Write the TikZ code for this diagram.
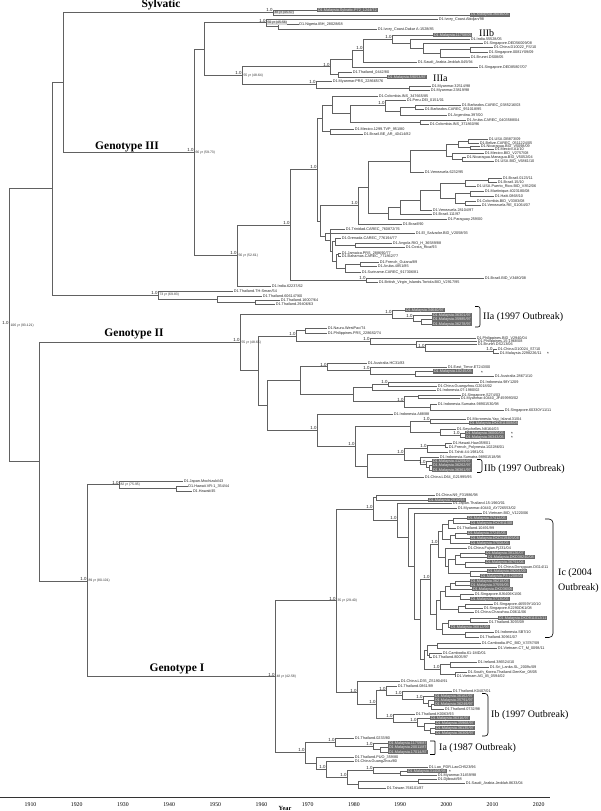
\documentclass[tikz,border=0pt]{standalone}
\usepackage{fontspec}
\setmainfont{Liberation Serif}
\newfontfamily\tipf{Liberation Sans}
\newcommand{\tnd}[3]{\coordinate (#1) at (#2,#3);}
\newcommand{\ttip}[4]{\node[tipn] (#1) at (#2,#3) {#4};}
\newcommand{\tbox}[4]{\node[btipn] (#1) at (#2,#3) {#4};}
\newcommand{\ein}[2]{\draw[branch] (#1) |- (#2);}
\newcommand{\etp}[2]{\draw[branch] (#1) |- (#2.west);}
\newcommand{\supp}[1]{\node[supn] (s#1) at ([yshift=0.2pt]#1) {1.0};}
\newcommand{\agel}[2]{\node[agen] (a#1) at ([xshift=1pt]#1) {#2};}
\newcommand{\agebx}[2]{\node[ageb] (a#1) at ([xshift=1pt]#1) {#2};}
\tikzset{
 branch/.style={draw=black!62, line width=0.55pt},
 tipn/.style={anchor=west, inner xsep=0.6pt, inner ysep=0.2pt, text height=2.8pt, text depth=0.8pt, font=\tipf\fontsize{3.8}{4}\selectfont, text=black!85},
 btipn/.style={anchor=west, inner xsep=0.8pt, inner ysep=0.3pt, fill=black!58, text=black!8, text height=2.8pt, text depth=0.8pt, font=\tipf\fontsize{3.8}{4}\selectfont},
 supn/.style={anchor=south east, inner sep=0.2pt, font=\tipf\fontsize{4.4}{4.4}\selectfont, text=black!85},
 agen/.style={anchor=west, inner sep=0.3pt, font=\tipf\fontsize{3.4}{3.4}\selectfont, text=black!80},
 ageb/.style={agen, fill=black!15},
 gen/.style={anchor=base, inner sep=0pt, font=\bfseries\fontsize{11.5}{12}\selectfont},
 clade/.style={anchor=base west, inner sep=0pt, font=\fontsize{10}{11}\selectfont},
 brk/.style={draw=black, line width=0.6pt},
 star/.style={inner sep=0pt, font=\tipf\fontsize{4.6}{4.6}\selectfont},
 yrl/.style={anchor=base, inner sep=0pt, font=\fontsize{5.8}{6}\selectfont},
}
\begin{document}
\begin{tikzpicture}[x=1pt,y=-1pt]
\useasboundingbox (0,0) rectangle (600,811);
\fill[white] (0,0) rectangle (600,811);
% ---------------- Sylvatic + Genotype III ----------------
\tnd{root}{9}{325.2}
\tnd{n52}{52}{188.7}
\tnd{n63}{63}{82.4}
\tnd{syl}{273}{12.5}
\tbox{tSylA}{317}{10}{D1.Malaysia.Sylvatic.P72\_1244/72}
\tbox{tSylB}{470}{15}{D1.Malaysia.36046/05}
\tnd{g3}{194}{152.3}
\tnd{nA}{204}{49.2}
\tnd{n56}{266}{22.75}
\ttip{tAbid}{438}{19}{D1.Ivory\_Coast.Abidjan/98}
\tnd{n278}{278}{26.5}
\ttip{tNig}{298.6}{24}{D1.Nigeria.IBH\_28028/68}
\ttip{tDak}{377}{29}{D1.Ivory\_Coast.Dakar A-1528/85}
\tnd{nB}{242}{75.6}
\tnd{nC}{330}{66.7}
\tnd{nCb}{352}{58.8}
\tnd{nE}{363}{50.6}
\tnd{nG}{392}{39.3}
\tbox{tIIIb}{433}{35}{D1.Malaysia.11758/05}
\tnd{nH}{410}{43.6}
\ttip{tInd55}{470}{39}{D1.India.55528/05}
\tnd{nI}{423}{48.1}
\ttip{tSg56}{483}{43}{D1.Singapore.DED56009/08}
\tnd{nJ}{440}{53.25}
\tnd{nK}{470}{49.5}
\ttip{tCh22}{493}{47}{D1.China.D10022\_FS/10}
\ttip{tSg81}{488}{52}{D1.Singapore.0081Y09/09}
\ttip{tBrn}{470}{57}{D1.Brunei.DS08/05}
\ttip{tSau45}{417}{62}{D1.Saudi\_Arabia.Jeddah.045/94}
\ttip{tSg858}{478}{67}{D1.Singapore.DED85807/07}
\tnd{nF}{338}{74.5}
\ttip{tTh442}{352}{72}{D1.Thailand\_0442/80}
\tbox{tIIIa}{387}{77}{D1.Malaysia.59053/87}
\tnd{nD}{316}{84.5}
\ttip{tMyPRS}{332}{81}{D1.Myanmar.PRS\_228665/76}
\tnd{nM2}{409}{88}
\ttip{tMy325}{431}{86}{D1.Myanmar.32514/98}
\ttip{tMy230}{430}{90}{D1.Myanmar.23819/98}
\tnd{nL}{237}{255.4}
\tnd{nP}{290}{224.8}
\tnd{nR}{366}{280}
\ttip{tBrV34}{484}{278}{D1.Brazil.BID\_V3480/08}
\ttip{tBVI}{378}{282}{D1.British\_Virgin\_Islands.Tortola.BID\_V2917/95}
\ttip{tInd62}{271}{286}{D1.India.62237/62}
\tnd{nQ}{317}{169.6}
\tnd{nT1}{322}{118.2}
\tnd{nT2}{332}{104.9}
\ttip{tCo347}{378}{96}{D1.Colombia.INS\_347665/85}
\tnd{nT4}{350}{113.75}
\tnd{nT5}{385}{105.5}
\ttip{tPeru}{406}{100}{D1.Peru.DEI\_0151/01}
\tnd{nT6}{400}{111}
\tnd{nT8}{415}{107}
\ttip{tBb038}{461}{105}{D1.Barbados.CAREC\_0385216/03}
\ttip{tBb951}{424}{109}{D1.Barbados.CAREC\_951018/95}
\ttip{tArg}{447}{115}{D1.Argentina.397/00}
\tnd{nT7}{420}{122}
\ttip{tAru04}{466}{120}{D1.Aruba.CAREC\_0403588/04}
\ttip{tCo371}{429}{124}{D1.Colombia.INS\_371860/96}
\tnd{nT3}{330}{131.5}
\ttip{tMex}{354}{129}{D1.Mexico.1299.TVP\_951/80}
\ttip{tBrBE}{363}{134}{D1.Brazil.BE\_AR\_40414/82}
\tnd{nV}{320}{221.05}
\tnd{nW}{358}{205.5}
\tnd{cW1}{368}{187}
\tnd{cVen}{410}{161}
\tnd{cNA}{446}{150.1}
\tnd{cNA1}{458}{144.25}
\tnd{cNA2}{468}{141}
\ttip{tUS873}{488}{139}{D1.USA.DB873/09}
\ttip{tBlz}{479}{143}{D1.Belize.CAREC\_0511224/05}
\tnd{cNA3}{470}{147.5}
\ttip{tNic98}{480}{146}{D1.Nicaragua.BID\_V5098/09}
\ttip{tMxA1}{494}{149}{D1.Mexico.A1/10}
\tnd{cNA4}{452}{156}
\ttip{tMx275}{484}{153}{D1.Mexico.BID\_V2757/08}
\tnd{cNA5}{462}{159}
\ttip{tNicMg}{466}{157}{D1.Nicaragua.Managua.BID\_V5052/04}
\ttip{tUS686}{494}{161}{D1.USA.BID\_V6861/10}
\ttip{tVe623}{424}{172}{D1.Venezuela.6232/95}
\tnd{cSA3x}{388}{213.1}
\tnd{cSA2x}{400}{207.2}
\tnd{cSA1x}{420}{200.3}
\tnd{cSA}{440}{190.6}
\tnd{cSA1}{465}{183}
\tnd{cSA2}{488}{180}
\ttip{tBr0123}{502}{178}{D1.Brazil.0123/11}
\ttip{tBr15}{497}{182}{D1.Brazil.15/10}
\ttip{tUSPR}{476}{186}{D1.USA.Puerto\_Rico.BID\_V852/06}
\tnd{cSA3}{455}{198.25}
\tnd{cSA4}{470}{193.5}
\ttip{tMart}{484}{191}{D1.Martinique.4023180/08}
\ttip{tHaiti}{494}{196}{D1.Haiti.0868/10}
\tnd{cSA5}{465}{203}
\ttip{tCoV33}{476}{201}{D1.Colombia.BID\_V3383/08}
\ttip{tVeRE}{481}{205}{D1.Venezuela.RE\_S1064/07}
\ttip{tVe281}{432}{210}{D1.Venezuela.28104/97}
\ttip{tBr111}{432}{214}{D1.Brazil.111/97}
\ttip{tPar}{447}{219}{D1.Paraguay.259/00}
\ttip{tBr90}{402}{224}{D1.Brazil/90}
\tnd{nY}{325}{236.6}
\ttip{tElS}{415}{233}{D1.El\_Salvador.BID\_V2058/93}
\tnd{cL8}{330}{240.2}
\ttip{tTrin}{345}{229}{D1.Trinidad.CAREC\_760872/76}
\tnd{cL6}{332}{251.4}
\tnd{cL1}{335}{241.5}
\ttip{tGren}{341}{238}{D1.Grenada.CAREC\_776194/77}
\tnd{cL2}{355}{245}
\ttip{tAng}{392}{243}{D1.Angola.RIO\_H\_36589/88}
\ttip{tCR}{405}{247}{D1.Costa\_Rica/93}
\tnd{cL7}{336}{261.25}
\tnd{cL3}{338}{254.5}
\ttip{tJam}{341}{253}{D1.Jamaica.PRS\_288690/77}
\ttip{tBah}{341}{256}{D1.Bahamas.CAREC\_771862/77}
\tnd{cL4}{345}{268}
\tnd{cL5}{360}{264}
\ttip{tFrG}{379}{262}{D1.French\_Guiana/89}
\ttip{tAru85}{377}{266}{D1.Aruba.4851/85}
\ttip{tSur}{361}{272}{D1.Suriname.CAREC\_917306/81}
\tnd{n73}{158}{295}
\ttip{tThSm}{233}{291}{D1.Thailand.TH-Sman/54}
\tnd{n217}{217}{299}
\ttip{tTh806}{262}{296}{D1.Thailand.606147/60}
\tnd{n250}{255}{302}
\ttip{tTh160}{280}{300}{D1.Thailand.16007/64}
\ttip{tTh294}{275}{304}{D1.Thailand.29406/63}
% ---------------- Genotype II ----------------
\tnd{n39}{39}{461.6}
\tnd{g2}{240}{342.4}
\tnd{nIIa}{392}{314.2}
\tbox{tIIa1}{405}{310}{D1.Malaysia.34640/97}
\tnd{nIIa2}{413}{318.4}
\tbox{tIIa2}{432}{315}{D1.Malaysia.36301/97}
\tnd{nIIa3}{421}{321.75}
\tbox{tIIa3}{432}{319.5}{D1.Malaysia.35985/97}
\tbox{tIIa4}{432}{324}{D1.Malaysia.36278/97}
\tnd{nN2}{258}{370.6}
\tnd{nAg}{296}{335.85}
\tnd{nA1}{305}{330.5}
\ttip{tNau}{327}{328}{D1.Nauru.WestPac/74}
\ttip{tPhPRS}{327}{333}{D1.Philippines.PRS\_228682/74}
\tnd{nA2}{370}{341.2}
\ttip{tPhBID}{476}{338}{D1.Philippines.BID\_V2940/04}
\tnd{nA3}{416}{344.4}
\ttip{tPh15}{477}{341}{D1.Philippines.15-1968/08}
\tnd{nA4}{425}{347.75}
\ttip{tBrn06}{477}{344.5}{D1.Brunei.DS213/06}
\tnd{nA5}{493}{351}
\ttip{tCh24}{497}{349}{D1.China.D10024\_ST/10}
\ttip{tMy11}{499}{353}{D1.Malaysia.2298226/11}
\tnd{nX}{267}{405.35}
\tnd{nBc}{300}{380.6}
\tnd{nBg}{327}{366.75}
\ttip{tAuHC}{367}{363}{D1.Australia.HC31/83}
\tnd{nB2}{370}{370.5}
\ttip{tETim}{447}{367}{D1.East\_Timor.ET243/00}
\tnd{nB2a}{415}{374}
\tbox{tMalET}{433}{371.5}{D1.Malaysia.10245/05}
\ttip{tAu286}{494}{376.5}{D1.Australia.28671/10}
\tnd{nB3}{353}{394.4}
\tnd{nB4}{372}{387}
\tnd{nB4a}{388}{384}
\ttip{tIdn98}{479}{382}{D1.Indonesia.98Y1209}
\ttip{tChGz}{437}{386}{D1.China.Guangzhou.G2018/02}
\ttip{tIdn07}{436}{390}{D1.Indonesia.07-1980/02}
\tnd{nB5}{404}{401.75}
\tnd{nB5a}{418}{396.5}
\ttip{tSgS274}{461}{395}{D1.Singapore.S274/03}
\ttip{tMy440}{460}{398}{D1.Myanmar.40440\_JF459993/02}
\tnd{nB5b}{430}{407}
\ttip{tIdnSu}{437}{404}{D1.Indonesia.Sumatra.98901530/98}
\ttip{tSg603}{504}{410}{D1.Singapore.60330Y11/11}
\tnd{nCc}{317}{430.1}
\ttip{tIdnA88}{393}{414}{D1.Indonesia.A88/88}
\tnd{nCx}{355}{446.15}
\tnd{nCm}{410}{426.5}
\tnd{nM1}{430}{421}
\ttip{tMic}{466}{419}{D1.Micronesia.Yap\_Island.31/04}
\tbox{tMalM}{469}{423}{D1.Malaysia.DKD811008/08}
\tnd{nCs}{440}{432}
\ttip{tSey}{456}{429}{D1.Seychelles.N8164/03}
\tnd{nCs2}{460}{435}
\tbox{tMalS1}{465}{433}{D1.Malaysia.36000/05}
\tbox{tMalS2}{465}{437}{D1.Malaysia.36343/05}
\tnd{nCh}{367}{465.8}
\tnd{nCh1}{404}{454.6}
\tnd{nCh2}{427}{448.5}
\tnd{nCh3}{445}{445}
\ttip{tHaw}{452}{443}{D1.Hawaii.Haw359/01}
\ttip{tFrP}{448}{447}{D1.French\_Polynesia.102286/01}
\ttip{tTah}{448}{452}{D1.Tahiti.44-1981/01}
\tnd{nCh4}{420}{460.7}
\ttip{tIdn518}{439}{457}{D1.Indonesia.Sumatra.98901518/98}
\tnd{nIIb}{426}{464.4}
\tbox{tIIb1}{432}{461}{D1.Malaysia.41259/97}
\tnd{nIIb2}{429}{467.75}
\tbox{tIIb2}{432}{465.5}{D1.Malaysia.36262/97}
\tbox{tIIb3}{432}{470}{D1.Malaysia.36361/97}
\ttip{tChLD}{424}{477}{D1.China.LD64\_G21995/95}
% ---------------- Genotype I ----------------
\tnd{g1}{87}{580.8}
\tnd{n92}{119}{484.75}
\ttip{tJpM}{183}{481}{D1.Japan.Mochizuki/43}
\tnd{n176}{176}{488.5}
\ttip{tHwVR}{187.6}{486}{D1.Hawaii.VR-1\_354/44}
\ttip{tHw45}{192.2}{491}{D1.Hawaii/45}
\tnd{g1b}{275}{676.7}
\tnd{g1c}{336}{600.75}
\tnd{nU1}{373}{508.8}
\tnd{nU1a}{376}{497.5}
\ttip{tChN9}{435}{495}{D1.China.N9\_F31986/98}
\tbox{tMalN9}{428}{500}{D1.Malaysia.2010/98}
\tnd{nU2}{397}{520.1}
\ttip{tJpTh}{452}{503}{D1.Japan.Thailand.15-1960/01}
\tnd{nU2b}{408}{537.2}
\ttip{tMy4GI}{457}{508}{D1.Myanmar.40440\_AY726553/02}
\tnd{nU2c}{414}{566.3}
\ttip{tVnV12}{482}{513}{D1.Vietnam.BID\_V1220/06}
\tnd{nU2d}{420}{619.6}
\tnd{nIc}{430}{579.5}
\tnd{K12}{438}{544.5}
\tnd{K5}{442}{531.75}
\tnd{K2}{448}{524.25}
\tnd{K1}{453}{520.5}
\tbox{c1}{467}{518}{D1.Malaysia.37412/05}
\tbox{c2}{470}{523}{D1.Malaysia.DKD811/08}
\ttip{c3}{456}{528}{D1.Thailand.10491/99}
\tnd{K4}{450}{539.25}
\tnd{K3}{455}{535.5}
\tbox{c4}{467}{533}{D1.Malaysia.37245/05}
\tbox{c5}{470}{538}{D1.Malaysia.DKD419405/08}
\tbox{c6}{470}{543}{D1.Malaysia.37008/05}
\tnd{K11}{445}{557.3}
\ttip{c7}{467}{548}{D1.China.Fujian.Fj231/04}
\tnd{K10}{448}{566.6}
\tnd{K8}{455}{559.75}
\tnd{K6}{460}{555}
\tbox{c8}{485}{553}{D1.Malaysia.38126/07}
\tbox{c9}{487}{557}{D1.Malaysia.DKD38240/08}
\tnd{K7}{465}{564.5}
\tbox{c10}{485}{562}{D1.Malaysia.36791/06}
\ttip{c11}{497}{567}{D1.China.Dongguan.DG14/11}
\tnd{K9}{470}{573.5}
\tbox{c12}{487}{571}{D1.Malaysia.39204/09}
\tbox{c13}{480}{576}{D1.Malaysia.P8-1208/06}
\tnd{K24}{436}{614.55}
\tnd{K19}{440}{600.1}
\tnd{K16}{445}{591.25}
\tnd{K14}{450}{586}
\tnd{K13}{455}{583}
\tbox{c14}{470}{581}{D1.Malaysia.36218/05}
\tbox{c15}{470}{585}{D1.Malaysia.37559/05}
\tbox{c16}{472}{589}{D1.Malaysia.DKD36/06}
\tnd{K15}{460}{596.5}
\ttip{c17}{474}{594}{D1.Singapore.8J6406K1/06}
\tbox{c18}{470}{599}{D1.Malaysia.37130/05}
\tnd{K18}{458}{609}
\tnd{K17}{465}{606}
\ttip{c19}{493}{604}{D1.Singapore.46559Y10/10}
\ttip{c20}{483}{608}{D1.Singapore.K2290DK1/08}
\ttip{c21}{474}{612}{D1.China.Chaozhou.D0611/06}
\tnd{K23}{442}{629}
\tnd{K21}{448}{623.5}
\tnd{K20}{470}{620}
\tbox{c22}{498}{618}{D1.Malaysia.DKD811012/11}
\ttip{c23}{488}{622}{D1.Thailand.3093/09}
\tbox{c24}{450}{627}{D1.Malaysia.36812/99}
\tnd{K22}{465}{634.5}
\ttip{c25}{494}{632}{D1.Indonesia.SB7/10}
\ttip{c26}{479}{637}{D1.Thailand.30961/07}
\tnd{nLG}{424}{659.75}
\tnd{nLG1}{427}{650.25}
\tnd{nLG2}{437}{645.5}
\ttip{tCambIPC}{481}{643}{D1.Cambodia.IPC\_BID\_V3787/09}
\ttip{tVietCT}{497}{648}{D1.Vietnam.CT\_M\_0098/11}
\tnd{nLG3}{429}{655}
\ttip{tCamb61}{442}{653}{D1.Cambodia.61-1MD/01}
\ttip{tTh80}{432}{657}{D1.Thailand.8005/97}
\tnd{nLG4}{440}{669.25}
\tnd{nLG5}{450}{664.5}
\ttip{tIrl}{477}{662}{D1.Ireland.386524/10}
\ttip{tSL}{489}{667}{D1.Sri\_Lanka.SL\_2009c/09}
\tnd{nLG6}{455}{674}
\ttip{tSK}{467}{672}{D1.South\_Korea.Thailand.DenKor\_08/05}
\ttip{tVnAG}{456}{676}{D1.Vietnam.AG\_IB\_0594/02}
\tnd{nIbN}{357}{692.7}
\ttip{tChLD35}{400}{681}{D1.China.LD35\_ZS1904/91}
\tnd{Ib1}{376}{704.4}
\tnd{IbA}{386}{690.65}
\ttip{tTh0861}{397}{686}{D1.Thailand.0861/89}
\tnd{IbA2}{402}{695.3}
\ttip{tThK0407}{452}{691}{D1.Thailand.K0407/01}
\tnd{IbA3}{423}{699.6}
\tbox{tIb1}{434}{696}{D1.Malaysia.36162/97}
\tnd{IbA4}{428}{703.25}
\tbox{tIb2}{434}{700}{D1.Malaysia.35791/97}
\tnd{IbA5}{431}{706.5}
\tbox{tIb3}{434}{704}{D1.Malaysia.36249/97}
\ttip{tTh0732}{444}{709}{D1.Thailand.0732/98}
\tnd{IbB}{393}{718.2}
\ttip{tThK06}{415}{714}{D1.Thailand.K0063/93}
\tnd{IbB2}{417}{722.4}
\tbox{tIb4}{430}{718}{D1.Malaysia.36316/97}
\tnd{IbB3}{424}{726.75}
\tbox{tIb5}{435}{723}{D1.Malaysia.35968/97}
\tnd{IbB4}{430}{730.5}
\tbox{tIb6}{435}{728}{D1.Malaysia.36135/97}
\tbox{tIb7}{435}{733}{D1.Malaysia.36309/97}
\tnd{g1d}{305}{752.6}
\tnd{IaN}{335}{742.2}
\ttip{tTh0233}{354}{738}{D1.Thailand.0233/80}
\tnd{Ia2}{373}{746.4}
\tbox{tIa1}{388}{743}{D1.Malaysia.11759/87}
\tnd{Ia3}{380}{749.75}
\tbox{tIa2}{388}{747.5}{D1.Malaysia.20011/87}
\tbox{tIa3}{388}{752}{D1.Malaysia.17014/87}
\tnd{g1h}{316}{763.1}
\ttip{tThPUO}{354}{757}{D1.Thailand.PUO\_359/80}
\tnd{g1e}{326}{769.1}
\ttip{tChGZ80}{354}{761}{D1.China.GuangZhou/80}
\tnd{g1g}{347}{777.25}
\tnd{L1}{373}{770}
\ttip{tLao}{428}{767}{D1.Lao\_PDR.LaoCH523/96}
\tnd{L2}{400}{773}
\tbox{tMalLao}{407}{771}{D1.Malaysia.31408/98}
\ttip{tMy314}{437}{775.5}{D1.Myanmar.31459/98}
\tnd{G1i}{358}{784.5}
\tnd{DjSa}{418}{781}
\ttip{tDji}{437}{779}{D1.Djibouti/98}
\ttip{tSau86}{465}{783}{D1.Saudi\_Arabia.Jeddah.8633/04}
\ttip{tTwn}{386}{788}{D1.Taiwan.766101/87}
% ---------------- branches ----------------
\ein{root}{n52} \ein{root}{n39}
\ein{n52}{n63} \ein{n52}{n73}
\ein{n63}{syl} \ein{n63}{g3}
\etp{syl}{tSylA} \etp{syl}{tSylB}
\ein{g3}{nA} \ein{g3}{nL}
\ein{nA}{n56} \ein{nA}{nB}
\etp{n56}{tAbid} \ein{n56}{n278}
\etp{n278}{tNig} \etp{n278}{tDak}
\ein{nB}{nC} \ein{nB}{nD}
\ein{nC}{nCb} \ein{nC}{nF}
\ein{nCb}{nE} \etp{nCb}{tSg858}
\ein{nE}{nG} \etp{nE}{tSau45}
\etp{nG}{tIIIb} \ein{nG}{nH}
\etp{nH}{tInd55} \ein{nH}{nI}
\etp{nI}{tSg56} \ein{nI}{nJ}
\ein{nJ}{nK} \etp{nJ}{tBrn}
\etp{nK}{tCh22} \etp{nK}{tSg81}
\etp{nF}{tTh442} \etp{nF}{tIIIa}
\etp{nD}{tMyPRS} \ein{nD}{nM2}
\etp{nM2}{tMy325} \etp{nM2}{tMy230}
\ein{nL}{nP} \etp{nL}{tInd62}
\ein{nP}{nQ} \ein{nP}{nR}
\etp{nR}{tBrV34} \etp{nR}{tBVI}
\ein{nQ}{nT1} \ein{nQ}{nV}
\ein{nT1}{nT2} \ein{nT1}{nT3}
\etp{nT2}{tCo347} \ein{nT2}{nT4}
\ein{nT4}{nT5} \ein{nT4}{nT7}
\etp{nT5}{tPeru} \ein{nT5}{nT6}
\ein{nT6}{nT8} \etp{nT6}{tArg}
\etp{nT8}{tBb038} \etp{nT8}{tBb951}
\etp{nT7}{tAru04} \etp{nT7}{tCo371}
\etp{nT3}{tMex} \etp{nT3}{tBrBE}
\ein{nV}{nW} \ein{nV}{nY}
\ein{nW}{cW1} \etp{nW}{tBr90}
\ein{cW1}{cVen} \ein{cW1}{cSA3x}
\ein{cVen}{cNA} \etp{cVen}{tVe623}
\ein{cNA}{cNA1} \ein{cNA}{cNA4}
\ein{cNA1}{cNA2} \ein{cNA1}{cNA3}
\etp{cNA2}{tUS873} \etp{cNA2}{tBlz}
\etp{cNA3}{tNic98} \etp{cNA3}{tMxA1}
\etp{cNA4}{tMx275} \ein{cNA4}{cNA5}
\etp{cNA5}{tNicMg} \etp{cNA5}{tUS686}
\ein{cSA3x}{cSA2x} \etp{cSA3x}{tPar}
\ein{cSA2x}{cSA1x} \etp{cSA2x}{tBr111}
\ein{cSA1x}{cSA} \etp{cSA1x}{tVe281}
\ein{cSA}{cSA1} \ein{cSA}{cSA3}
\ein{cSA1}{cSA2} \etp{cSA1}{tUSPR}
\etp{cSA2}{tBr0123} \etp{cSA2}{tBr15}
\ein{cSA3}{cSA4} \ein{cSA3}{cSA5}
\etp{cSA4}{tMart} \etp{cSA4}{tHaiti}
\etp{cSA5}{tCoV33} \etp{cSA5}{tVeRE}
\etp{nY}{tElS} \ein{nY}{cL8}
\etp{cL8}{tTrin} \ein{cL8}{cL6}
\ein{cL6}{cL1} \ein{cL6}{cL7}
\etp{cL1}{tGren} \ein{cL1}{cL2}
\etp{cL2}{tAng} \etp{cL2}{tCR}
\ein{cL7}{cL3} \ein{cL7}{cL4}
\etp{cL3}{tJam} \etp{cL3}{tBah}
\ein{cL4}{cL5} \etp{cL4}{tSur}
\etp{cL5}{tFrG} \etp{cL5}{tAru85}
\etp{n73}{tThSm} \ein{n73}{n217}
\etp{n217}{tTh806} \ein{n217}{n250}
\etp{n250}{tTh160} \etp{n250}{tTh294}
\ein{n39}{g2} \ein{n39}{g1}
\ein{g2}{nIIa} \ein{g2}{nN2}
\etp{nIIa}{tIIa1} \ein{nIIa}{nIIa2}
\etp{nIIa2}{tIIa2} \ein{nIIa2}{nIIa3}
\etp{nIIa3}{tIIa3} \etp{nIIa3}{tIIa4}
\ein{nN2}{nAg} \ein{nN2}{nX}
\ein{nAg}{nA1} \ein{nAg}{nA2}
\etp{nA1}{tNau} \etp{nA1}{tPhPRS}
\etp{nA2}{tPhBID} \ein{nA2}{nA3}
\etp{nA3}{tPh15} \ein{nA3}{nA4}
\etp{nA4}{tBrn06} \ein{nA4}{nA5}
\etp{nA5}{tCh24} \etp{nA5}{tMy11}
\ein{nX}{nBc} \ein{nX}{nCc}
\ein{nBc}{nBg} \ein{nBc}{nB3}
\etp{nBg}{tAuHC} \ein{nBg}{nB2}
\etp{nB2}{tETim} \ein{nB2}{nB2a}
\etp{nB2a}{tMalET} \etp{nB2a}{tAu286}
\ein{nB3}{nB4} \ein{nB3}{nB5}
\ein{nB4}{nB4a} \etp{nB4}{tIdn07}
\etp{nB4a}{tIdn98} \etp{nB4a}{tChGz}
\ein{nB5}{nB5a} \ein{nB5}{nB5b}
\etp{nB5a}{tSgS274} \etp{nB5a}{tMy440}
\etp{nB5b}{tIdnSu} \etp{nB5b}{tSg603}
\etp{nCc}{tIdnA88} \ein{nCc}{nCx}
\ein{nCx}{nCm} \ein{nCx}{nCh}
\ein{nCm}{nM1} \ein{nCm}{nCs}
\etp{nM1}{tMic} \etp{nM1}{tMalM}
\etp{nCs}{tSey} \ein{nCs}{nCs2}
\etp{nCs2}{tMalS1} \etp{nCs2}{tMalS2}
\ein{nCh}{nCh1} \etp{nCh}{tChLD}
\ein{nCh1}{nCh2} \ein{nCh1}{nCh4}
\ein{nCh2}{nCh3} \etp{nCh2}{tTah}
\etp{nCh3}{tHaw} \etp{nCh3}{tFrP}
\etp{nCh4}{tIdn518} \ein{nCh4}{nIIb}
\etp{nIIb}{tIIb1} \ein{nIIb}{nIIb2}
\etp{nIIb2}{tIIb2} \etp{nIIb2}{tIIb3}
\ein{g1}{n92} \ein{g1}{g1b}
\etp{n92}{tJpM} \ein{n92}{n176}
\etp{n176}{tHwVR} \etp{n176}{tHw45}
\ein{g1b}{g1c} \ein{g1b}{g1d}
\ein{g1c}{nU1} \ein{g1c}{nIbN}
\ein{nU1}{nU1a} \ein{nU1}{nU2}
\etp{nU1a}{tChN9} \etp{nU1a}{tMalN9}
\etp{nU2}{tJpTh} \ein{nU2}{nU2b}
\etp{nU2b}{tMy4GI} \ein{nU2b}{nU2c}
\etp{nU2c}{tVnV12} \ein{nU2c}{nU2d}
\ein{nU2d}{nIc} \ein{nU2d}{nLG}
\ein{nIc}{K12} \ein{nIc}{K24}
\ein{K12}{K5} \ein{K12}{K11}
\ein{K5}{K2} \ein{K5}{K4}
\ein{K2}{K1} \etp{K2}{c3}
\etp{K1}{c1} \etp{K1}{c2}
\ein{K4}{K3} \etp{K4}{c6}
\etp{K3}{c4} \etp{K3}{c5}
\etp{K11}{c7} \ein{K11}{K10}
\ein{K10}{K8} \ein{K10}{K9}
\ein{K8}{K6} \ein{K8}{K7}
\etp{K6}{c8} \etp{K6}{c9}
\etp{K7}{c10} \etp{K7}{c11}
\etp{K9}{c12} \etp{K9}{c13}
\ein{K24}{K19} \ein{K24}{K23}
\ein{K19}{K16} \ein{K19}{K18}
\ein{K16}{K14} \ein{K16}{K15}
\ein{K14}{K13} \etp{K14}{c16}
\etp{K13}{c14} \etp{K13}{c15}
\etp{K15}{c17} \etp{K15}{c18}
\ein{K18}{K17} \etp{K18}{c21}
\etp{K17}{c19} \etp{K17}{c20}
\ein{K23}{K21} \ein{K23}{K22}
\ein{K21}{K20} \etp{K21}{c24}
\etp{K20}{c22} \etp{K20}{c23}
\etp{K22}{c25} \etp{K22}{c26}
\ein{nLG}{nLG1} \ein{nLG}{nLG4}
\ein{nLG1}{nLG2} \ein{nLG1}{nLG3}
\etp{nLG2}{tCambIPC} \etp{nLG2}{tVietCT}
\etp{nLG3}{tCamb61} \etp{nLG3}{tTh80}
\ein{nLG4}{nLG5} \ein{nLG4}{nLG6}
\etp{nLG5}{tIrl} \etp{nLG5}{tSL}
\etp{nLG6}{tSK} \etp{nLG6}{tVnAG}
\etp{nIbN}{tChLD35} \ein{nIbN}{Ib1}
\ein{Ib1}{IbA} \ein{Ib1}{IbB}
\etp{IbA}{tTh0861} \ein{IbA}{IbA2}
\etp{IbA2}{tThK0407} \ein{IbA2}{IbA3}
\etp{IbA3}{tIb1} \ein{IbA3}{IbA4}
\etp{IbA4}{tIb2} \ein{IbA4}{IbA5}
\etp{IbA5}{tIb3} \etp{IbA5}{tTh0732}
\etp{IbB}{tThK06} \ein{IbB}{IbB2}
\etp{IbB2}{tIb4} \ein{IbB2}{IbB3}
\etp{IbB3}{tIb5} \ein{IbB3}{IbB4}
\etp{IbB4}{tIb6} \etp{IbB4}{tIb7}
\ein{g1d}{IaN} \ein{g1d}{g1h}
\etp{IaN}{tTh0233} \ein{IaN}{Ia2}
\etp{Ia2}{tIa1} \ein{Ia2}{Ia3}
\etp{Ia3}{tIa2} \etp{Ia3}{tIa3}
\etp{g1h}{tThPUO} \ein{g1h}{g1e}
\etp{g1e}{tChGZ80} \ein{g1e}{g1g}
\ein{g1g}{L1} \ein{g1g}{G1i}
\etp{L1}{tLao} \ein{L1}{L2}
\etp{L2}{tMalLao} \etp{L2}{tMy314}
\ein{G1i}{DjSa} \etp{G1i}{tTwn}
\etp{DjSa}{tDji} \etp{DjSa}{tSau86}
% ---------------- support values ----------------
\supp{root} \supp{syl} \supp{n56} \supp{g3} \supp{nB} \supp{nC} \supp{nE} \supp{nG} \supp{nD}
\supp{nL} \supp{nP} \supp{nR} \supp{nQ} \supp{nT5} \supp{nW} \supp{n73}
\supp{g2} \supp{nIIa} \supp{nIIa2} \supp{nAg} \supp{nA2} \supp{nA4} \supp{nA5} \supp{nBg} \supp{nB2}
\supp{nB4a} \supp{nB5} \supp{nCc} \supp{nCx} \supp{nM1} \supp{nCs2} \supp{nCh1} \supp{nCh2} \supp{nIIb}
\supp{g1} \supp{n92} \supp{g1b} \supp{g1c} \supp{nU1} \supp{nU2} \supp{K12} \supp{nIc} \supp{nLG4}
\supp{nIbN} \supp{Ib1} \supp{IbA} \supp{IbA2} \supp{IbA3} \supp{IbB} \supp{IbB2}
\supp{g1d} \supp{IaN} \supp{Ia2} \supp{g1e} \supp{g1g} \supp{L1}
% ---------------- node ages ----------------
\agel{root}{106 yr (93-121)}
\agebx{syl}{48 yr (45-57)}
\agebx{n56}{50 yr (45-56)}
\agel{g3}{66 yr (59-73)}
\agel{nB}{55 yr (48-64)}
\agel{nL}{56 yr (52-61)}
\agel{n73}{73 yr (69-83)}
\agel{g2}{55 yr (48-65)}
\agel{g1}{89 yr (80-101)}
\agel{n92}{82 yr (75-95)}
\agel{g1b}{48 yr (42-58)}
\agel{g1c}{35 yr (29-40)}
% ---------------- asterisks ----------------
\node[star] (st1) at (548,354) {*};
\node[star] (st2) at (482,373) {*};
\node[star] (st3) at (512,433.6) {*};
\node[star] (st4) at (512,438.4) {*};
\node[star] (st5) at (450,772) {*};
% ---------------- group labels ----------------
\node[gen] (lSyl) at (161,7.5) {Sylvatic};
\node[gen] (lG3) at (127,149) {Genotype III};
\node[gen] (lG2) at (134,336) {Genotype II};
\node[gen] (lG1) at (177,671) {Genotype I};
\node[clade] (lIIIb) at (479,36) {IIIb};
\node[clade] (lIIIa) at (433,81) {IIIa};
\node[clade] (lIIa) at (483,319) {IIa (1997 Outbreak)};
\node[clade] (lIIb) at (484,471) {IIb (1997 Outbreak)};
\node[clade] (lIc1) at (558,575) {Ic (2004};
\node[clade] (lIc2) at (558,590) {Outbreak)};
\node[clade] (lIb) at (491,717) {Ib (1997 Outbreak)};
\node[clade] (lIa) at (439,750) {Ia (1987 Outbreak)};
% ---------------- brackets ----------------
\draw[brk, rounded corners=2pt] (475,306.5) -- (480,306.5) -- (480,327) -- (475,327);
\draw[brk, rounded corners=2pt] (477,459.5) -- (482,459.5) -- (482,472.5) -- (477,472.5);
\draw[brk, rounded corners=4pt] (545,519) -- (553,519) -- (553,637.5) -- (545,637.5);
\draw[brk, rounded corners=3pt] (482,693.5) -- (488,693.5) -- (488,736) -- (482,736);
\draw[brk, rounded corners=0.6pt] (430,741) -- (435,741) -- (435,754.5) -- (430,754.5);
% ---------------- time axis ----------------
\coordinate (ax0) at (0,797.5);
\coordinate (ax1) at (550,797.5);
\draw[black!80, line width=0.6pt] (ax0) -- (ax1);
\foreach \yr in {1910,1920,...,2020}{
  \pgfmathsetmacro{\xx}{30.5+4.62*(\yr-1910)}
  \node[yrl] (yr\yr) at (\xx,806.3) {\yr};
}
\node[yrl, font=\bfseries\fontsize{6.3}{6.5}\selectfont] (yrlab) at (285,810.3) {Year};
\end{tikzpicture}
\end{document}
